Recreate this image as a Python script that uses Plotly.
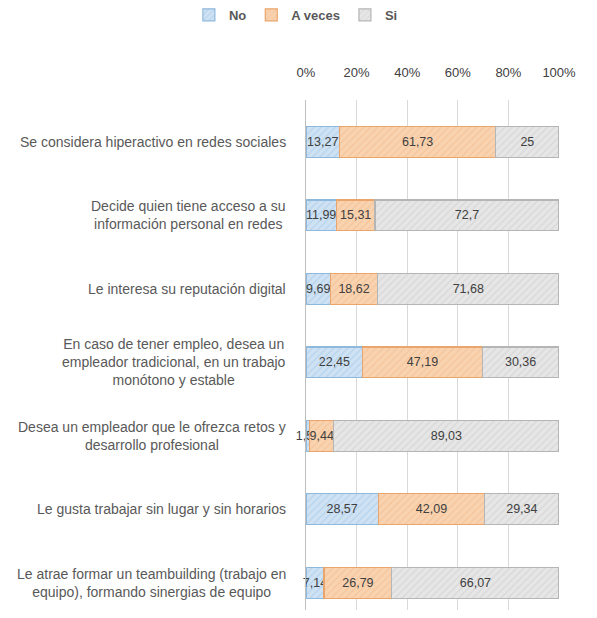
import plotly.graph_objects as go

categories = [
    "Se considera hiperactivo en redes sociales",
    "Decide quien tiene acceso a su<br>información personal en redes",
    "Le interesa su reputación digital",
    "En caso de tener empleo, desea un<br>empleador tradicional, en un trabajo<br>monótono y estable",
    "Desea un empleador que le ofrezca retos y<br>desarrollo profesional",
    "Le gusta trabajar sin lugar y sin horarios",
    "Le atrae formar un teambuilding (trabajo en<br>equipo), formando sinergias de equipo",
]
no_vals = [13.27, 11.99, 9.69, 22.45, 1.53, 28.57, 7.14]
aveces_vals = [61.73, 15.31, 18.62, 47.19, 9.44, 42.09, 26.79]
si_vals = [25, 72.7, 71.68, 30.36, 89.03, 29.34, 66.07]
series_names = ["No", "A veces", "Si"]
tick_vals = [0, 20, 40, 60, 80, 100]

cat_ids = [f"c{i}" for i in range(len(categories))]

def fmt(v):
    return f"{v:g}".replace(".", ",")

styles = [
    dict(bg="#cfe2f3", fg="#9cc3e6", line="#8fb8dd"),
    dict(bg="#f9d3b0", fg="#f0b585", line="#e9a56c"),
    dict(bg="#e6e6e6", fg="#c8c8c8", line="#b5b5b5"),
]

fig = go.Figure()
for name, vals, st in zip(series_names, [no_vals, aveces_vals, si_vals], styles):
    fig.add_trace(go.Bar(
        y=cat_ids, x=vals, orientation="h", name=f"<b>{name}</b>",
        width=0.42,
        marker=dict(color=st["bg"], line=dict(color=st["line"], width=1.2),
                    pattern=dict(shape="/", fgcolor=st["fg"], bgcolor=st["bg"], size=5, solidity=0.25)),
        text=[fmt(v) for v in vals], textposition="inside", insidetextanchor="middle",
        textangle=0,
        textfont=dict(color="#404040", size=12.5, family="Liberation Sans, Arial"),
        constraintext="none", cliponaxis=False,
    ))

for cid, lab in zip(cat_ids, categories):
    fig.add_annotation(x=0, xref="paper", y=cid, yref="y", text=lab, showarrow=False,
                       xanchor="right", align="center", xshift=-18,
                       font=dict(size=14, color="#595959", family="Liberation Sans, Arial"))

fig.update_layout(
    width=597, height=618, barmode="stack",
    margin=dict(l=298, r=46, t=92, b=16, autoexpand=False),
    paper_bgcolor="white", plot_bgcolor="white",
    font=dict(family="Liberation Sans, Arial", color="#404040"),
    uniformtext=dict(minsize=12, mode="show"),
    legend=dict(orientation="h", x=-0.04, xanchor="center", y=1.167, yanchor="middle",
                font=dict(size=13, color="#595959"), itemwidth=30, traceorder="normal"),
    showlegend=True,
)
fig.update_xaxes(side="top", range=[0, 100], tickvals=tick_vals,
                 ticktext=[f"{t}%" for t in tick_vals], showgrid=True, gridcolor="#d9d9d9",
                 zeroline=False, tickfont=dict(size=13, color="#404040"), ticks="",
                 ticklabelstandoff=19, automargin=False)
fig.update_yaxes(categoryorder="array", categoryarray=cat_ids, range=[6.37, -0.57],
                 showticklabels=False, showline=True, linecolor="#bfbfbf", linewidth=1,
                 showgrid=False, zeroline=False, automargin=False)

fig.write_html("out.html")
